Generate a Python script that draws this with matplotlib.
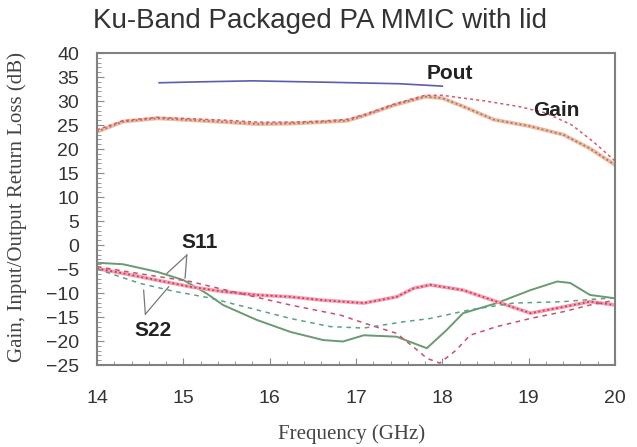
import numpy as np
import matplotlib.pyplot as plt
from matplotlib.ticker import MultipleLocator

# values
pout_f = [14.72, 15.2, 15.8, 16.7, 17.5, 18.0]
pout = [33.8, 34.0, 34.2, 33.9, 33.6, 33.1]

gain_f = [14.0, 14.3, 14.7, 15.1, 15.5, 15.85, 16.25, 16.6, 16.9, 17.1, 17.45,
          17.8, 18.0, 18.25, 18.6, 19.0, 19.4, 19.7, 20.0]
gain_meas = [23.6, 25.7, 26.4, 26.0, 25.6, 25.2, 25.3, 25.6, 25.9, 27.0, 29.2,
             30.9, 30.6, 28.8, 26.1, 24.8, 23.0, 20.2, 16.7]

gain_sim_f = [14.0, 14.3, 14.7, 15.1, 15.5, 15.85, 16.25, 16.6, 16.9, 17.1, 17.45,
              17.8, 18.0, 18.2, 18.5, 18.9, 19.2, 19.5, 19.75, 20.0]
gain_sim = [24.0, 25.9, 26.6, 26.3, 26.0, 25.6, 25.6, 25.8, 26.2, 27.2, 29.4,
            31.2, 31.2, 30.7, 30.0, 28.8, 27.5, 25.0, 21.5, 17.5]

s11_f = [14.0, 14.3, 14.7, 15.0, 15.27, 15.46, 15.85, 16.24, 16.62, 16.85, 17.09,
         17.47, 17.82, 18.05, 18.24, 18.63, 19.02, 19.33, 19.48, 19.71, 20.0]
s11_meas = [-3.7, -4.0, -5.6, -7.3, -10.1, -12.5, -15.6, -18.1, -19.8, -20.1, -18.8,
            -19.1, -21.5, -17.7, -14.2, -12.1, -9.4, -7.6, -7.9, -10.4, -11.1]

s22_f = [14.0, 14.3, 14.69, 15.08, 15.46, 15.85, 16.24, 16.62, 17.09, 17.47, 17.67,
         17.86, 18.24, 18.63, 19.02, 19.4, 19.71, 20.0]
s22_meas = [-4.9, -5.9, -7.3, -8.7, -9.7, -10.4, -10.8, -11.5, -12.1, -10.8, -9.0,
            -8.3, -9.4, -11.8, -14.2, -12.9, -11.8, -12.5]

s11_sim_f = [14.0, 14.5, 14.88, 15.3, 15.85, 16.24, 16.7, 17.09, 17.55, 17.86,
             18.32, 18.82, 19.4, 19.75, 20.0]
s11_sim = [-5.0, -8.0, -9.6, -11.0, -13.5, -15.3, -17.0, -17.3, -16.0, -15.3,
           -13.5, -12.1, -11.8, -11.3, -11.0]

s22_sim_f = [14.0, 14.5, 15.08, 15.66, 16.24, 16.82, 17.1, 17.47, 17.71, 17.82,
             17.97, 18.16, 18.32, 18.63, 19.02, 19.4, 19.71, 20.0]
s22_sim = [-4.5, -6.0, -7.6, -10.1, -12.5, -14.6, -16.3, -18.4, -21.9, -23.6,
           -24.6, -21.9, -18.8, -17.0, -15.3, -13.9, -12.5, -11.5]

x_ticks = [14, 15, 16, 17, 18, 19, 20]
y_ticks = list(range(-25, 41, 5))

fig = plt.figure(figsize=(6.37, 4.47), dpi=100)
ax = fig.add_axes([0.1523, 0.1834, 0.8132, 0.698])

ax.plot(pout_f, pout, color='#5c5cb0', lw=1.2)
# measured gain: light band with darker dots
ax.plot(gain_f, gain_meas, color='#eabfa8', lw=2.8)
ax.plot(gain_f, gain_meas, color='#b87058', lw=1.3, ls=(0, (1, 1.5)))
ax.plot(gain_sim_f, gain_sim, color='#d85a6c', lw=1.1, ls=(0, (2, 2)))
ax.plot(s11_f, s11_meas, color='#6a9a72', lw=1.4)
# measured S22: pink band with darker dots
ax.plot(s22_f, s22_meas, color='#f4a0b2', lw=2.6)
ax.plot(s22_f, s22_meas, color='#c83c5c', lw=1.3, ls=(0, (1, 1.5)))
ax.plot(s11_sim_f, s11_sim, color='#5aa282', lw=1.1, ls=(0, (3, 3)))
ax.plot(s22_sim_f, s22_sim, color='#c8506e', lw=1.1, ls=(0, (3, 3)))

ax.set_xlim(14, 20)
ax.set_ylim(-25, 40)
ax.set_xticks(x_ticks)
ax.set_yticks(y_ticks)
ax.xaxis.set_minor_locator(MultipleLocator(0.2))
ax.yaxis.set_minor_locator(MultipleLocator(1))
ax.tick_params(which='both', direction='in', color='#888888')
ax.tick_params(which='major', length=5, labelsize=14)
ax.tick_params(which='minor', length=3)
ax.tick_params(axis='x', pad=18)
ax.tick_params(axis='y', pad=13)
for lab in ax.get_xticklabels() + ax.get_yticklabels():
    lab.set_family('Liberation Sans')
    lab.set_color('#333333')
for s in ax.spines.values():
    s.set_color('#808080')
    s.set_linewidth(1.5)

ax.set_xlabel('Frequency (GHz)', family='Liberation Serif', fontsize=15, color='#444444')
ax.set_ylabel('Gain, Input/Output Return Loss (dB)', family='Liberation Serif', fontsize=15,
              color='#444444')
ax.xaxis.set_label_coords(0.492, -0.19)
ax.yaxis.set_label_coords(-0.135, 0.508)
fig.text(320 / 637, 1 - 21 / 447, 'Ku-Band Packaged PA MMIC with lid', family='Liberation Sans',
         fontsize=20, color='#333333', ha='center', va='center')

bold = dict(family='Liberation Sans', fontsize=15, fontweight='bold', color='#222222',
            ha='center', va='center')
ax.text(18.09, 35.8, 'Pout', **bold)
ax.text(19.32, 28.1, 'Gain', **bold)
ax.text(15.19, 0.5, 'S11', **bold)
ax.text(14.65, -17.9, 'S22', **bold)

lc = dict(color='#777777', lw=0.9)
ax.plot([15.04, 14.81], [-2.1, -5.9], **lc)
ax.plot([15.04, 15.02], [-2.1, -6.9], **lc)
ax.plot([14.56, 14.54], [-14.4, -9.4], **lc)
ax.plot([14.56, 14.83], [-14.4, -8.7], **lc)

fig.savefig('out.png', dpi=100)
